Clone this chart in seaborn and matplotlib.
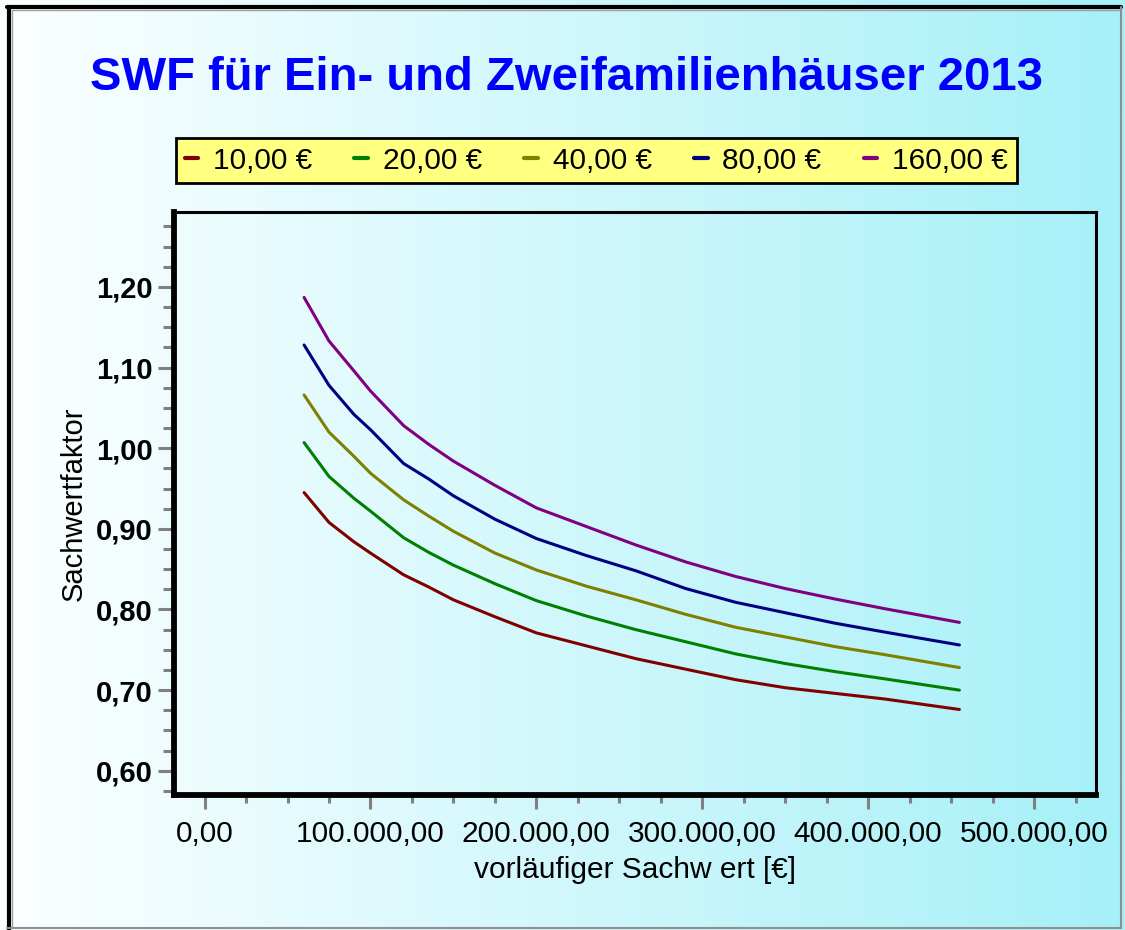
import matplotlib
matplotlib.use('Agg')

import numpy as np
import pandas as pd
import matplotlib.pyplot as plt
import seaborn as sns
from matplotlib.lines import Line2D
from matplotlib.ticker import MultipleLocator, FuncFormatter

# Data
sachwert = [60000, 75000, 90000, 100000, 120000, 135000, 150000, 175000, 200000,
            230000, 260000, 290000, 320000, 350000, 380000, 410000, 455000]
labels = ['10,00 €', '20,00 €', '40,00 €', '80,00 €', '160,00 €']
swf_10 = [0.945, 0.908, 0.884, 0.870, 0.843, 0.828, 0.812, 0.791, 0.771,
          0.755, 0.739, 0.726, 0.713, 0.703, 0.696, 0.689, 0.676]
swf_20 = [1.007, 0.965, 0.938, 0.922, 0.889, 0.871, 0.855, 0.832, 0.811,
          0.792, 0.775, 0.760, 0.745, 0.733, 0.723, 0.714, 0.700]
swf_40 = [1.066, 1.020, 0.990, 0.969, 0.936, 0.916, 0.897, 0.870, 0.849,
          0.829, 0.812, 0.794, 0.778, 0.766, 0.754, 0.744, 0.728]
swf_80 = [1.128, 1.078, 1.042, 1.023, 0.981, 0.962, 0.941, 0.912, 0.888,
          0.867, 0.848, 0.826, 0.809, 0.796, 0.783, 0.772, 0.756]
swf_160 = [1.187, 1.133, 1.096, 1.071, 1.028, 1.005, 0.984, 0.954, 0.926,
           0.903, 0.880, 0.859, 0.841, 0.826, 0.813, 0.801, 0.784]
colors = ['#800000', '#008000', '#808000', '#000080', '#800080']

rows = []
for lab, vals in zip(labels, [swf_10, swf_20, swf_40, swf_80, swf_160]):
    for x, y in zip(sachwert, vals):
        rows.append({'wert': x, 'faktor': y, 'stufe': lab})
df = pd.DataFrame(rows)

sns.set_style('white')
plt.rcParams['font.family'] = ['Liberation Sans', 'DejaVu Sans']
plt.rcParams['text.color'] = 'black'
plt.rcParams['axes.labelcolor'] = 'black'
plt.rcParams['xtick.labelcolor'] = 'black'
plt.rcParams['ytick.labelcolor'] = 'black'

fig = plt.figure(figsize=(11.25, 9.3), dpi=100)

# background gradient (white -> cyan)
bg = fig.add_axes([0, 0, 1, 1], zorder=-10)
t = np.linspace(0, 1, 512)
c0 = np.array([252, 255, 255]) / 255
c1 = np.array([166, 240, 248]) / 255
grad = (c0[None, :] * (1 - t[:, None]) + c1[None, :] * t[:, None])[None, :, :]
bg.imshow(grad, extent=[0, 1, 0, 1], aspect='auto')
bg.set_xlim(0, 1)
bg.set_ylim(0, 1)
bg.axis('off')

# frame around the picture
fig.add_artist(Line2D([0.0078, 0.0078], [0, 0.993], transform=fig.transFigure, color='black', lw=3))
fig.add_artist(Line2D([0.0062, 0.996], [0.9925, 0.9925], transform=fig.transFigure, color='black', lw=3))
fig.add_artist(Line2D([0.0105, 0.0105], [0.002, 0.989], transform=fig.transFigure, color='#a0a0a0', lw=1))
fig.add_artist(Line2D([0.0105, 0.996], [0.989, 0.989], transform=fig.transFigure, color='#a0a0a0', lw=1))
fig.add_artist(Line2D([0.9965, 0.9965], [0.002, 0.993], transform=fig.transFigure, color='#909090', lw=1.5))
fig.add_artist(Line2D([0.0062, 0.9965], [0.0025, 0.0025], transform=fig.transFigure, color='#909090', lw=1.5))

ax = fig.add_axes([0.1547, 0.1452, 0.8196, 0.6269])
ax.set_facecolor('none')

sns.lineplot(data=df, x='wert', y='faktor', hue='stufe', hue_order=labels,
             palette=colors, linewidth=2.2, estimator=None, ax=ax)

ax.set_xlim(-18400, 537400)
ax.set_ylim(0.570, 1.293)
ax.xaxis.set_major_locator(MultipleLocator(100000))
ax.xaxis.set_minor_locator(MultipleLocator(25000))
ax.yaxis.set_major_locator(MultipleLocator(0.1))
ax.yaxis.set_minor_locator(MultipleLocator(0.025))


def de_x(v, pos):
    s = f'{v:,.2f}'
    return s.replace(',', 'X').replace('.', ',').replace('X', '.')


def de_y(v, pos):
    return f'{v:.2f}'.replace('.', ',')


ax.xaxis.set_major_formatter(FuncFormatter(de_x))
ax.yaxis.set_major_formatter(FuncFormatter(de_y))

ax.tick_params(axis='both', which='both', direction='out', color='#808080', width=2.2,
               bottom=True, left=True, top=False, right=False)
ax.tick_params(axis='y', which='major', length=11.5, pad=4, labelsize=21)
ax.tick_params(axis='y', which='minor', length=8)
ax.tick_params(axis='x', which='major', length=10, pad=8, labelsize=21.5)
ax.tick_params(axis='x', which='minor', length=6)
for lab in ax.get_yticklabels():
    lab.set_fontweight('bold')

for side in ['left', 'bottom']:
    ax.spines[side].set_linewidth(4.2)
    ax.spines[side].set_color('black')
for side in ['top', 'right']:
    ax.spines[side].set_linewidth(2.2)
    ax.spines[side].set_color('black')
    ax.spines[side].set_visible(True)

ax.set_xlabel('vorläufiger Sachw ert [€]', fontsize=21.5, labelpad=6)
ax.set_ylabel('Sachwertfaktor', fontsize=21, labelpad=6)

handles, labs = ax.get_legend_handles_labels()
for h in handles:
    h.set_linewidth(3)
leg = ax.legend(handles, labs, loc='center', bbox_to_anchor=(0.530, 0.8274),
                bbox_transform=fig.transFigure, ncol=5, fontsize=21.5,
                handlelength=0.45, handletextpad=0.5, columnspacing=1.42,
                borderpad=0.3, fancybox=False, framealpha=1)
leg.get_frame().set_facecolor('#ffff80')
leg.get_frame().set_edgecolor('black')
leg.get_frame().set_linewidth(2)

fig.text(0.504, 0.916, 'SWF für Ein- und Zweifamilienhäuser 2013', ha='center', va='center',
         fontsize=34, fontweight='bold', color='#0000ff')

fig.savefig('out.png', dpi=100)
plt.close(fig)
